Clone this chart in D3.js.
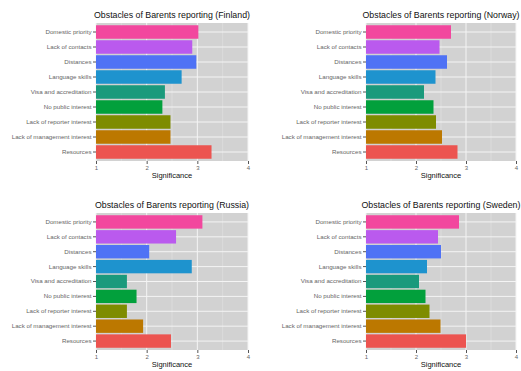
<!DOCTYPE html>
<html><head><meta charset="utf-8">
<script src="https://cdn.jsdelivr.net/npm/d3@7"></script>
<style>
body{margin:0;background:#fff;}
svg{display:block;font-family:"Liberation Sans",Arial,sans-serif;}
</style></head>
<body>
<svg id="chart" width="521" height="371"></svg>
<script>
const categories = ["Domestic priority","Lack of contacts","Distances","Language skills","Visa and accreditation","No public interest","Lack of reporter interest","Lack of management interest","Resources"];
const colors = ["#F2479E","#BA5AEE","#4F72F5","#1E93CE","#1A9A7C","#02A03C","#7E8C00","#BC7800","#EC5450"];
const finland = [3.02, 2.90, 2.98, 2.69, 2.36, 2.31, 2.47, 2.47, 3.28];
const norway  = [2.70, 2.47, 2.62, 2.39, 2.16, 2.35, 2.40, 2.52, 2.83];
const russia  = [3.10, 2.58, 2.05, 2.89, 1.61, 1.80, 1.61, 1.93, 2.48];
const sweden  = [2.86, 2.44, 2.50, 2.22, 2.06, 2.19, 2.27, 2.49, 3.00];
const xTicks = [1, 2, 3, 4];
const xMinor = [1.5, 2.5, 3.5];
const titles = ["Obstacles of Barents reporting (Finland)","Obstacles of Barents reporting (Norway)","Obstacles of Barents reporting (Russia)","Obstacles of Barents reporting (Sweden)"];
const axisTitle = "Significance";

const panels = [
  {vals: finland, title: titles[0], l: 96,  r: 248, t: 23,  b: 161},
  {vals: norway,  title: titles[1], l: 366, r: 516, t: 23,  b: 161},
  {vals: russia,  title: titles[2], l: 96,  r: 248, t: 213, b: 350},
  {vals: sweden,  title: titles[3], l: 366, r: 516, t: 213, b: 350}
];

const svg = d3.select("#chart");
panels.forEach(p => {
  const g = svg.append("g");
  const x = d3.scaleLinear().domain([1, 4]).range([p.l, p.r]);
  const y = d3.scaleBand().domain(categories).range([p.t, p.b]).paddingInner(0.1).paddingOuter(0.15);
  g.append("rect").attr("x", p.l).attr("y", p.t).attr("width", p.r - p.l).attr("height", p.b - p.t).attr("fill", "#d2d2d2");
  g.selectAll(".minor").data(xMinor).join("line")
    .attr("x1", d => x(d)).attr("x2", d => x(d)).attr("y1", p.t).attr("y2", p.b)
    .attr("stroke", "#e4e4e4").attr("stroke-width", 0.5);
  g.selectAll(".major").data(xTicks).join("line")
    .attr("x1", d => x(d)).attr("x2", d => x(d)).attr("y1", p.t).attr("y2", p.b)
    .attr("stroke", "#f4f4f4").attr("stroke-width", 1);
  g.selectAll(".hg").data(categories).join("line")
    .attr("x1", p.l).attr("x2", p.r).attr("y1", d => y(d) + y.bandwidth() / 2).attr("y2", d => y(d) + y.bandwidth() / 2)
    .attr("stroke", "#f4f4f4").attr("stroke-width", 1);
  g.selectAll(".bar").data(categories).join("rect")
    .attr("x", x(1)).attr("y", d => y(d))
    .attr("width", (d, i) => x(p.vals[i]) - x(1)).attr("height", y.bandwidth())
    .attr("fill", (d, i) => colors[i]);
  const ax = g.append("g").attr("transform", `translate(0,${p.b})`)
    .call(d3.axisBottom(x).tickValues(xTicks).tickFormat(d3.format("d")).tickSize(3).tickPadding(1.5));
  ax.select(".domain").remove();
  ax.selectAll("line").attr("stroke", "#555");
  ax.selectAll("text").attr("font-size", 6).attr("fill", "#666");
  const ay = g.append("g").attr("transform", `translate(${p.l},0)`)
    .call(d3.axisLeft(y).tickSize(3).tickPadding(1.5));
  ay.select(".domain").remove();
  ay.selectAll("line").attr("stroke", "#555");
  ay.selectAll("text").attr("font-size", 6.2).attr("fill", "#666");
  g.append("text").attr("x", (p.l + p.r) / 2).attr("y", p.t - 5).attr("text-anchor", "middle")
    .attr("font-size", 8.8).attr("fill", "#111").text(p.title);
  g.append("text").attr("x", (p.l + p.r) / 2).attr("y", p.b + 17).attr("text-anchor", "middle")
    .attr("font-size", 7.5).attr("fill", "#111").text(axisTitle);
});
</script>
</body></html>
